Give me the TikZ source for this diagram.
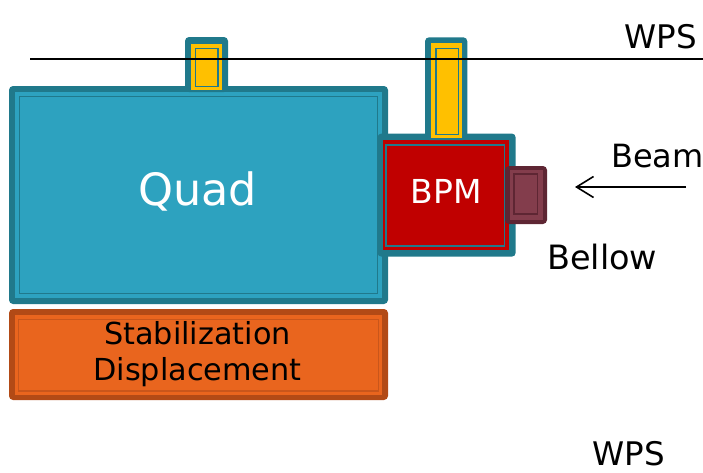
\documentclass[tikz,border=0pt]{standalone}
\usepackage{fontspec}
\setmainfont{DejaVu Sans}
\usetikzlibrary{arrows.meta}
\definecolor{qlight}{HTML}{2DA2BF}
\definecolor{qdark}{HTML}{20798B}
\definecolor{yel}{HTML}{FFC000}
\definecolor{bpmred}{HTML}{C00000}
\definecolor{bdark}{HTML}{5E2633}
\definecolor{blight}{HTML}{833D4C}
\definecolor{odark}{HTML}{B24A16}
\definecolor{oline}{HTML}{C9561B}
\definecolor{orng}{HTML}{E9651E}
\tikzset{
  outerfill/.style={fill=#1, rounded corners=4pt},
  innerline/.style={draw=#1, line width=1.6pt},
  lbl/.style={inner sep=0pt, text=black},
}
\begin{document}
\begin{tikzpicture}[x=1pt,y=-1pt]
\useasboundingbox (0,0) rectangle (703,472);
% Quad
\fill[outerfill=qdark] (9,86) rectangle (388,304);
\fill[qlight] (15,92) rectangle (382,298);
\draw[innerline=qdark,line width=1.2pt] (19.3,96.5) rectangle (377.7,293.5);
% Quad tab
\fill[outerfill=qdark] (185,37) rectangle (228,92);
\fill[yel] (191,43.5) rectangle (222,90);
\draw[innerline=qdark] (195.6,48.3) rectangle (218,86.5);
% BPM
\fill[outerfill=qdark] (377.5,133.5) rectangle (515.7,256.7);
\fill[bpmred] (382.7,140) rectangle (509.3,249.5);
\draw[innerline=qdark,line width=1.4pt] (385.8,144.8) rectangle (504.2,245.8);
% BPM tab
\fill[outerfill=qdark] (425,37.3) rectangle (467.3,140);
\fill[yel] (431,43.3) rectangle (461.7,138);
\draw[innerline=qdark] (435.8,48.3) rectangle (458.3,134.5);
% Bellow
\fill[outerfill=bdark] (505,166) rectangle (547,224);
\fill[blight] (510,170) rectangle (542.5,219.5);
\draw[draw=bdark,line width=1.8pt] (514,174) rectangle (537.5,214);
% Stabilization
\fill[outerfill=odark] (9,309) rectangle (388,400);
\fill[orng] (15,315) rectangle (382,395);
\draw[innerline=oline,line width=1.3pt] (18.3,319.5) rectangle (378.8,391);
% WPS line
\coordinate (wpsL) at (30,59);
\coordinate (wpsR) at (703,59);
\draw[line width=2pt] (wpsL) -- (wpsR);
% texts
\node[lbl, text=white, font=\fontsize{44.5}{50}\selectfont, anchor=base] (quad) at (197.5,205) {Quad};
\node[lbl, text=white, font=\fontsize{33}{38}\selectfont, anchor=base] (bpm) at (446,203) {BPM};
\node[lbl, font=\fontsize{30.3}{36}\selectfont, align=center, anchor=center] (stab) at (197.5,354) {Stabilization\\Displacement};
\node[lbl, font=\fontsize{32.5}{36}\selectfont, anchor=base west] (wpstop) at (624.5,48) {WPS};
\node[lbl, font=\fontsize{32}{36}\selectfont, anchor=base west] (beam) at (611,167) {Beam};
\node[lbl, font=\fontsize{33.5}{36}\selectfont, anchor=base west] (bellow) at (547,269) {Bellow};
\node[lbl, font=\fontsize{32.5}{36}\selectfont, anchor=base west] (wpsbot) at (592.5,465) {WPS};
% beam arrow
\coordinate (beamtail) at (686,187);
\coordinate (beamtip) at (575,187);
\draw[line width=1.6pt, -{Straight Barb[length=17pt,width=21pt]}] (beamtail) -- (beamtip);
\end{tikzpicture}
\end{document}
